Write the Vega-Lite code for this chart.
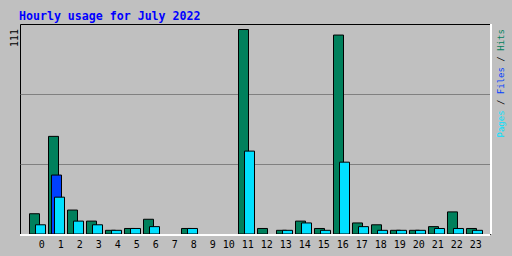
{
  "$schema": "https://vega.github.io/schema/vega-lite/v6.json",
  "width": 470,
  "height": 210,
  "autosize": {"type": "none"},
  "padding": {"left": 20, "top": 24, "right": 22, "bottom": 22},
  "background": "#C0C0C0",
  "config": {
    "view": {"stroke": "#000000", "strokeWidth": 1, "fill": null},
    "axis": {"labelFont": "DejaVu Sans Mono", "titleFont": "DejaVu Sans Mono"}
  },
  "data": {
    "values": [
      {"hour": 0, "hits": 11, "files": 0, "pages": 5},
      {"hour": 1, "hits": 53, "files": 32, "pages": 20},
      {"hour": 2, "hits": 13, "files": 0, "pages": 7},
      {"hour": 3, "hits": 7, "files": 0, "pages": 5},
      {"hour": 4, "hits": 2, "files": 0, "pages": 2},
      {"hour": 5, "hits": 3, "files": 0, "pages": 3},
      {"hour": 6, "hits": 8, "files": 0, "pages": 4},
      {"hour": 7, "hits": 0, "files": 0, "pages": 0},
      {"hour": 8, "hits": 3, "files": 0, "pages": 3},
      {"hour": 9, "hits": 0, "files": 0, "pages": 0},
      {"hour": 10, "hits": 0, "files": 0, "pages": 0},
      {"hour": 11, "hits": 111, "files": 0, "pages": 45},
      {"hour": 12, "hits": 3, "files": 0, "pages": 0},
      {"hour": 13, "hits": 2, "files": 0, "pages": 2},
      {"hour": 14, "hits": 7, "files": 0, "pages": 6},
      {"hour": 15, "hits": 3, "files": 0, "pages": 2},
      {"hour": 16, "hits": 108, "files": 0, "pages": 39},
      {"hour": 17, "hits": 6, "files": 0, "pages": 4},
      {"hour": 18, "hits": 5, "files": 0, "pages": 2},
      {"hour": 19, "hits": 2, "files": 0, "pages": 2},
      {"hour": 20, "hits": 2, "files": 0, "pages": 2},
      {"hour": 21, "hits": 4, "files": 0, "pages": 3},
      {"hour": 22, "hits": 12, "files": 0, "pages": 3},
      {"hour": 23, "hits": 3, "files": 0, "pages": 2}
    ]
  },
  "layer": [
    {
      "mark": {"type": "bar", "width": 10, "xOffset": -3, "fill": "#00805C", "stroke": "#000000", "strokeWidth": 1},
      "transform": [{"filter": "datum.hits > 0"}],
      "encoding": {
        "x": {
          "field": "hour",
          "type": "quantitative",
          "scale": {"domain": [-0.9211, 23.8158], "nice": false, "zero": false, "padding": 0},
          "axis": {
            "orient": "bottom",
            "values": [0,1,2,3,4,5,6,7,8,9,10,11,12,13,14,15,16,17,18,19,20,21,22,23],
            "domain": false,
            "ticks": false,
            "tickSize": 0,
            "grid": false,
            "labelAlign": "right",
            "labelBaseline": "top",
            "labelOffset": 6.8,
            "labelPadding": 5,
            "labelFontSize": 10,
            "labelColor": "#000000",
            "labelFlush": false,
            "labelOverlap": false,
            "title": "/\u00a0\u00a0\u00a0\u00a0\u00a0\u00a0\u00a0/",
            "titleColor": "#000000",
            "titleFontSize": 9,
            "titleFontWeight": "normal",
            "titleAngle": 270,
            "titleAlign": "center",
            "titleBaseline": "alphabetic",
            "titleX": 483.3,
            "titleY": -153.9
          }
        },
        "y": {
          "field": "hits",
          "type": "quantitative",
          "scale": {"domain": [0, 114], "nice": false},
          "axis": {
            "orient": "left",
            "values": [38, 76, 111],
            "grid": true,
            "gridColor": {"condition": {"test": "datum.value === 111", "value": "transparent"}, "value": "#808080"},
            "gridWidth": 1,
            "domain": false,
            "ticks": false,
            "tickSize": 0,
            "labelExpr": "datum.value === 111 ? '111' : ''",
            "labelAngle": 270,
            "labelAlign": "right",
            "labelBaseline": "middle",
            "labelOffset": -1,
            "labelPadding": 5.5,
            "labelFontSize": 10,
            "labelColor": "#000000",
            "labelFlush": false,
            "labelOverlap": false,
            "title": "Hits",
            "titleColor": "#00805C",
            "titleFontSize": 9,
            "titleFontWeight": "normal",
            "titleAngle": 270,
            "titleAlign": "center",
            "titleBaseline": "alphabetic",
            "titleX": 483.3,
            "titleY": 15.4
          }
        }
      }
    },
    {
      "mark": {"type": "bar", "width": 10, "xOffset": 0, "fill": "#0040FF", "stroke": "#000000", "strokeWidth": 1},
      "transform": [{"filter": "datum.files > 0"}],
      "encoding": {
        "x": {"field": "hour", "type": "quantitative", "axis": null},
        "y": {
          "field": "files",
          "type": "quantitative",
          "axis": {
            "orient": "right",
            "domain": false,
            "ticks": false,
            "labels": false,
            "grid": false,
            "title": "Files",
            "titleColor": "#0040FF",
            "titleFontSize": 9,
            "titleFontWeight": "normal",
            "titleAngle": 270,
            "titleAlign": "center",
            "titleBaseline": "alphabetic",
            "titleX": 13.3,
            "titleY": 56.1
          }
        }
      }
    },
    {
      "mark": {"type": "bar", "width": 10, "xOffset": 3, "fill": "#00E0FF", "stroke": "#000000", "strokeWidth": 1},
      "transform": [{"filter": "datum.pages > 0"}],
      "encoding": {
        "x": {"field": "hour", "type": "quantitative", "axis": null},
        "y": {
          "field": "pages",
          "type": "quantitative",
          "axis": {
            "orient": "right",
            "domain": false,
            "ticks": false,
            "labels": false,
            "grid": false,
            "title": "Pages",
            "titleColor": "#00E0FF",
            "titleFontSize": 9,
            "titleFontWeight": "normal",
            "titleAngle": 270,
            "titleAlign": "center",
            "titleBaseline": "alphabetic",
            "titleX": 13.3,
            "titleY": 99.45
          }
        }
      }
    },
    {
      "mark": {"type": "rule", "color": "#FFFFFF", "strokeWidth": 1, "yOffset": 1},
      "encoding": {"y": {"datum": 0, "type": "quantitative", "axis": null}}
    },
    {
      "mark": {"type": "rule", "color": "#FFFFFF", "strokeWidth": 1, "xOffset": 1},
      "encoding": {
        "x": {
          "datum": 23.8158,
          "type": "quantitative",
          "axis": {
            "orient": "top",
            "domain": false,
            "ticks": false,
            "labels": false,
            "grid": false,
            "title": "Hourly usage for July 2022",
            "titleColor": "#0000FF",
            "titleFontSize": 11.6,
            "titleFontWeight": "bold",
            "titleAngle": 0,
            "titleAlign": "left",
            "titleBaseline": "alphabetic",
            "titleX": -1.5,
            "titleY": -5
          }
        }
      }
    }
  ],
  "resolve": {"axis": {"x": "independent", "y": "independent"}}
}
